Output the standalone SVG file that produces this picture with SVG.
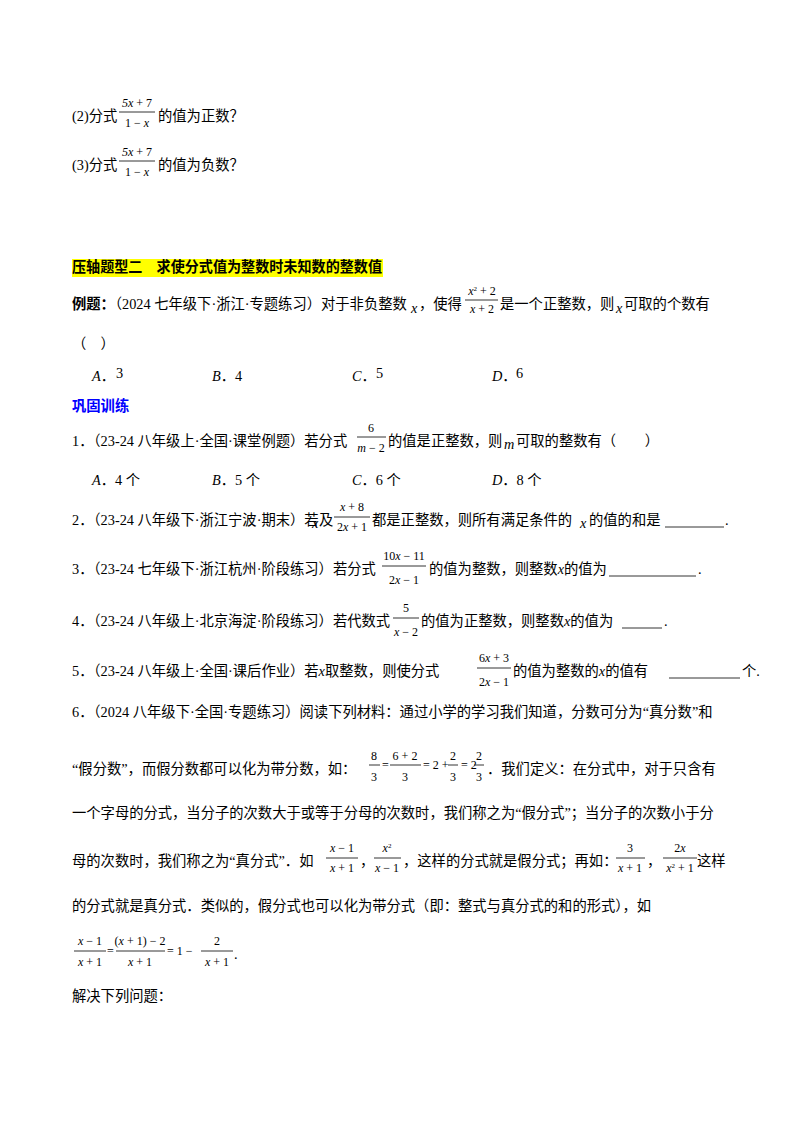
<svg xmlns="http://www.w3.org/2000/svg" width="800" height="1132" viewBox="0 0 800 1132">
<style>
text{font-family:"Liberation Serif","Noto Sans CJK SC",serif;font-size:14.3px;fill:#000}
.i{font-style:italic}
.s{font-size:12px}
.b{font-weight:bold}
.c{text-anchor:middle}
line{stroke:#000;stroke-width:0.8}
</style>
<rect width="800" height="1132" fill="#fff"/>
<text x="72" y="121">(2)分式</text>
<text x="137" y="107" class="s c"><tspan class="i">5x</tspan> + 7</text><line x1="119" y1="112" x2="155" y2="112"/><text x="137" y="127" class="s c">1 − <tspan class="i">x</tspan></text>
<text x="158" y="121">的值为正数？</text>
<text x="72" y="170">(3)分式</text>
<text x="137" y="156" class="s c"><tspan class="i">5x</tspan> + 7</text><line x1="119" y1="161" x2="155" y2="161"/><text x="137" y="176" class="s c">1 − <tspan class="i">x</tspan></text>
<text x="158" y="170">的值为负数？</text>
<rect x="72" y="259" width="311" height="18" fill="#ffff00"/>
<text x="72" y="272" class="b" textLength="310" lengthAdjust="spacingAndGlyphs">压轴题型二　求使分式值为整数时未知数的整数值</text>
<text x="72" y="309"><tspan class="b">例题：</tspan>（2024 七年级下·浙江·专题练习）对于非负整数</text>
<text x="411" y="313" class="i">x</text><text x="419" y="309">，使得</text>
<text x="482" y="295" class="s c"><tspan class="i">x</tspan><tspan dy="-4" font-size="7">2</tspan><tspan dy="4"> + 2</tspan></text><line x1="465" y1="300" x2="498" y2="300"/><text x="482" y="313" class="s c"><tspan class="i">x</tspan> + 2</text>
<text x="500" y="309">是一个正整数，则</text><text x="616" y="313" class="i">x</text><text x="624" y="309">可取的个数有</text>
<text x="72" y="349">（　）</text>
<text x="92" y="381"><tspan class="i">A</tspan>．</text><text x="116" y="378">3</text>
<text x="212" y="381"><tspan class="i">B</tspan>．4</text>
<text x="352" y="381"><tspan class="i">C</tspan>．</text><text x="376" y="378">5</text>
<text x="492" y="381"><tspan class="i">D</tspan>．</text><text x="516" y="378">6</text>
<text x="72" y="411" class="b" style="fill:#0000ff">巩固训练</text>
<text x="72" y="446">1．（23-24 八年级上·全国·课堂例题）若分式</text>
<text x="371" y="432" class="s c">6</text><line x1="357" y1="437" x2="386" y2="437"/><text x="371" y="452" class="s c"><tspan class="i">m</tspan> − 2</text>
<text x="388" y="446">的值是正整数，则</text><text x="504" y="449" class="i">m</text><text x="516" y="446">可取的整数有（　　）</text>
<text x="92" y="485"><tspan class="i">A</tspan>．4 个</text>
<text x="212" y="485"><tspan class="i">B</tspan>．5 个</text>
<text x="352" y="485"><tspan class="i">C</tspan>．6 个</text>
<text x="492" y="485"><tspan class="i">D</tspan>．8 个</text>
<text x="72" y="525">2．（23-24 八年级下·浙江宁波·期末）若</text>
<text x="312" y="528" class="i">x</text><text x="319" y="525">及</text>
<text x="352" y="511" class="s c"><tspan class="i">x</tspan> + 8</text><line x1="334" y1="517" x2="370" y2="517"/><text x="352" y="531" class="s c">2<tspan class="i">x</tspan> + 1</text>
<text x="372" y="525">都是正整数，则所有满足条件的</text><text x="580" y="528" class="i">x</text><text x="589" y="525">的值的和是</text>
<line x1="665" y1="527" x2="724" y2="527" stroke-width="1.2"/><text x="725" y="525">.</text>
<text x="72" y="574">3．（23-24 七年级下·浙江杭州·阶段练习）若分式</text>
<text x="404" y="560" class="s c">10<tspan class="i">x</tspan> − 11</text><line x1="382" y1="566" x2="426" y2="566"/><text x="404" y="584" class="s c">2<tspan class="i">x</tspan> − 1</text>
<text x="429" y="574">的值为整数，则整数<tspan class="i">x</tspan>的值为</text>
<line x1="609" y1="576" x2="696" y2="576" stroke-width="1.2"/><text x="698" y="574">.</text>
<text x="72" y="626">4．（23-24 八年级上·北京海淀·阶段练习）若代数式</text>
<text x="406" y="612" class="s c">5</text><line x1="393" y1="618" x2="419" y2="618"/><text x="406" y="636" class="s c"><tspan class="i">x</tspan> − 2</text>
<text x="421" y="626">的值为正整数，则整数<tspan class="i">x</tspan>的值为</text>
<line x1="622" y1="628" x2="662" y2="628" stroke-width="1.2"/><text x="664" y="626">.</text>
<text x="72" y="676">5．（23-24 八年级上·全国·课后作业）若<tspan class="i">x</tspan>取整数，则使分式</text>
<text x="494" y="662" class="s c">6<tspan class="i">x</tspan> + 3</text><line x1="477" y1="668" x2="511" y2="668"/><text x="494" y="686" class="s c">2<tspan class="i">x</tspan> − 1</text>
<text x="513" y="676">的值为整数的<tspan class="i">x</tspan>的值有</text>
<line x1="669" y1="678" x2="740" y2="678" stroke-width="1.2"/><text x="742" y="676">个.</text>
<text x="72" y="717">6．（2024 八年级下·全国·专题练习）阅读下列材料：通过小学的学习我们知道，分数可分为“真分数”和</text>
<text x="72" y="774">“假分数”，而假分数都可以化为带分数，如：</text>
<text x="374" y="760" class="s c">8</text><line x1="369" y1="765" x2="380" y2="765"/><text x="374" y="781" class="s c">3</text>
<text x="382" y="769" class="s">=</text>
<text x="405" y="760" class="s c">6 + 2</text><line x1="390" y1="765" x2="421" y2="765"/><text x="405" y="781" class="s c">3</text>
<text x="423" y="769" class="s">= 2 +</text>
<text x="453" y="760" class="s c">2</text><line x1="448" y1="765" x2="458" y2="765"/><text x="453" y="781" class="s c">3</text>
<text x="461" y="769" class="s">= 2</text>
<text x="479" y="760" class="s c">2</text><line x1="474" y1="765" x2="484" y2="765"/><text x="479" y="781" class="s c">3</text>
<text x="487" y="774">．我们定义：在分式中，对于只含有</text>
<text x="72" y="818">一个字母的分式，当分子的次数大于或等于分母的次数时，我们称之为“假分式”；当分子的次数小于分</text>
<text x="72" y="866">母的次数时，我们称之为“真分式”．如</text>
<text x="342" y="852" class="s c"><tspan class="i">x</tspan> − 1</text><line x1="326" y1="858" x2="358" y2="858"/><text x="342" y="872" class="s c"><tspan class="i">x</tspan> + 1</text>
<text x="360" y="866">，</text>
<text x="387" y="852" class="s c"><tspan class="i">x</tspan><tspan dy="-4" font-size="7">2</tspan></text><line x1="374" y1="858" x2="401" y2="858"/><text x="387" y="872" class="s c"><tspan class="i">x</tspan> − 1</text>
<text x="403" y="866">，这样的分式就是假分式；再如：</text>
<text x="630" y="852" class="s c">3</text><line x1="616" y1="858" x2="645" y2="858"/><text x="630" y="872" class="s c"><tspan class="i">x</tspan> + 1</text>
<text x="647" y="866">，</text>
<text x="680" y="852" class="s c">2<tspan class="i">x</tspan></text><line x1="663" y1="858" x2="697" y2="858"/><text x="680" y="872" class="s c"><tspan class="i">x</tspan><tspan dy="-4" font-size="7">2</tspan><tspan dy="4"> + 1</tspan></text>
<text x="697" y="866">这样</text>
<text x="72" y="911">的分式就是真分式．类似的，假分式也可以化为带分式（即：整式与真分式的和的形式），如</text>
<text x="90" y="945" class="s c"><tspan class="i">x</tspan> − 1</text><line x1="74" y1="951" x2="106" y2="951"/><text x="90" y="966" class="s c"><tspan class="i">x</tspan> + 1</text>
<text x="107" y="955" class="s">=</text>
<text x="140" y="945" class="s c">(<tspan class="i">x</tspan> + 1) − 2</text><line x1="116" y1="951" x2="165" y2="951"/><text x="140" y="966" class="s c"><tspan class="i">x</tspan> + 1</text>
<text x="167" y="955" class="s">= 1 −</text>
<text x="217" y="945" class="s c">2</text><line x1="201" y1="951" x2="233" y2="951"/><text x="217" y="966" class="s c"><tspan class="i">x</tspan> + 1</text>
<text x="234" y="959">.</text>
<text x="72" y="1001">解决下列问题：</text>
</svg>
